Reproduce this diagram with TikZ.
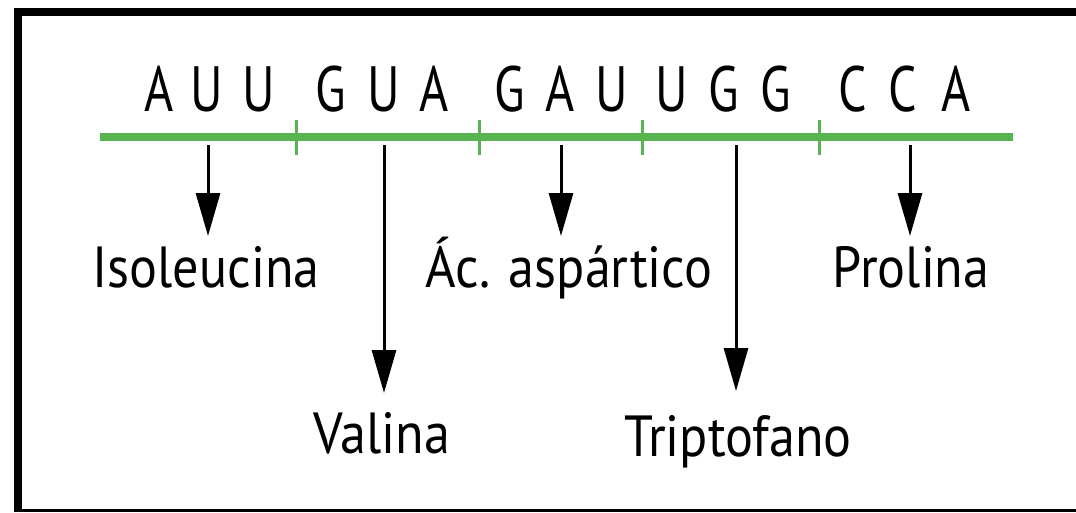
\documentclass[tikz,border=0pt]{standalone}
\usepackage{fontspec}
\usetikzlibrary{arrows.meta}
\newfontfamily\codonfont[FakeStretch=0.78]{PT Sans}
\newfontfamily\aminofont[FakeStretch=0.9]{PT Sans}
\definecolor{gruen}{RGB}{88,180,80}
\tikzset{
  nukleotid/.style={anchor=base,inner sep=0pt,font=\codonfont\fontsize{64}{64}\selectfont},
  amino/.style={anchor=base,inner sep=0pt,font=\aminofont\fontsize{58}{58}\selectfont},
  pfeil/.style={line width=3pt,-{Triangle[length=43pt,width=24pt]}}
}

\begin{document}
\begin{tikzpicture}[x=1pt,y=-1pt]
\useasboundingbox (0,0) rectangle (1076,512);

%Rahmen
\draw[line width=7.5pt] (17.8,512) -- (17.8,12.2) -- (1076,12.2);
\draw[line width=3pt] (14,510.6) -- (1076,510.6);

%Codons
\foreach \x/\b [count=\i] in {159/A,207/U,259/U,331/G,384/U,434/A,510/G,560/A,612/U,672/U,724/G,776/G,853/C,903/C,956/A}
  \node[nukleotid] (b\i) at (\x,111) {\b};

%mRNA-Strang
\draw[gruen,line width=8pt] (100,137) -- (1013,137);
\foreach \x in {296,479,642,819}
  \draw[gruen,line width=3pt] (\x,120) -- (\x,155);

%Pfeile
\foreach \x/\y [count=\i] in {208/236,384/393,561/236,736/391,910/236}{
  \coordinate (c\i) at (\x,145);
  \coordinate (e\i) at (\x,\y);
  \draw[pfeil] (c\i) -- (e\i);
}

%Aminosaeuren
\node[amino] (iso) at (206,287) {Isoleucina};
\node[amino] (val) at (382,453) {Valina};
\node[amino] (asp) at (569,287) {Ác. aspártico};
\node[amino] (trp) at (738,456) {Triptofano};
\node[amino] (pro) at (911,287) {Prolina};
\end{tikzpicture}
\end{document}
